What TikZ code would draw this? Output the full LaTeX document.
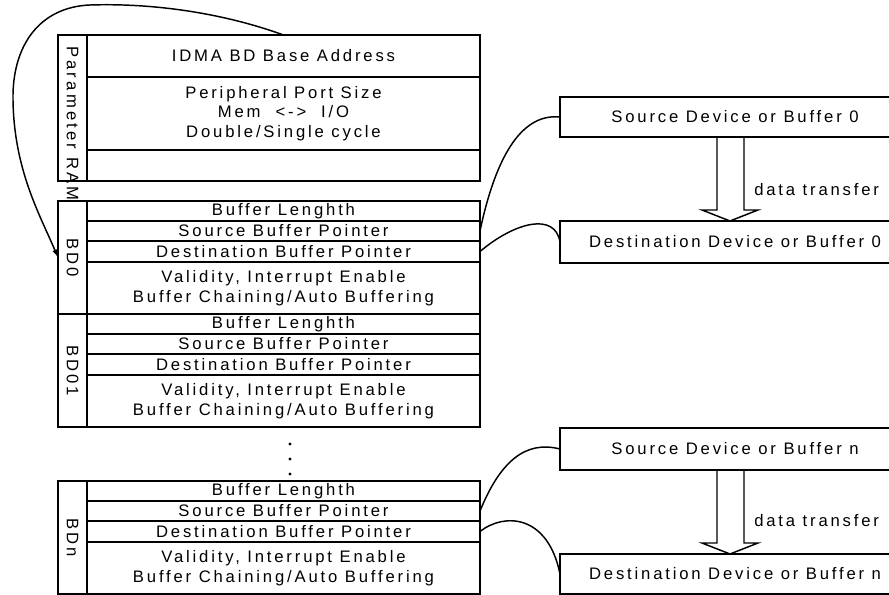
\documentclass[tikz,border=0pt]{standalone}
\usepackage{fontspec}
\usetikzlibrary{arrows.meta,calc}
\newfontfamily\lblfont[LetterSpace=17]{Liberation Sans}
\newfontfamily\widefont[LetterSpace=19]{Liberation Sans}
\newcommand\bdblock[3]{%
  \node[labcol, minimum height=113*0.75pt] (#1l) at (58,#2) {};
  \node[vlabel] (#1t) at (#1l.center) {#3};
  \node[cell, minimum height=20*0.75pt] (#1a) at (87,#2) {Buffer Lenghth};
  \node[cell, minimum height=20*0.75pt] (#1s) at (#1a.south west) {Source Buffer Pointer};
  \node[cell, minimum height=21*0.75pt] (#1d) at (#1s.south west) {Destination Buffer Pointer};
  \node[cell, minimum height=52*0.75pt] (#1v) at (#1d.south west) {Validity, Interrupt Enable\\Buffer Chaining/Auto Buffering};
}
\begin{document}
\begin{tikzpicture}[x=0.75pt,y=-0.75pt,
  lw/.style={line width=1.1pt},
  txt/.style={font=\lblfont\fontsize{12.5}{14.8}\selectfont, align=center},
  cell/.style={draw, lw, txt, inner sep=0pt, outer sep=0pt, anchor=north west, minimum width=393*0.75pt},
  labcol/.style={draw, lw, inner sep=0pt, outer sep=0pt, anchor=north west, minimum width=29*0.75pt},
  vlabel/.style={txt, rotate=-90, inner sep=0pt},
  devbox/.style={draw, lw, txt, inner sep=0pt, outer sep=0pt, anchor=north west, minimum width=350*0.75pt},
  conn/.style={lw, line cap=round},
  blockarrow/.style={lw, line join=miter}
]
\useasboundingbox (0,0) rectangle (889,595);

% Parameter RAM
\node[labcol, minimum height=146*0.75pt] (prl) at (58,35) {};
\node[vlabel, anchor=west, font=\widefont\fontsize{12.5}{14.8}\selectfont] (prt) at (72.5,46) {Parameter RAM};
\node[cell, minimum height=42*0.75pt] (pr1) at (87,35) {IDMA BD Base Address};
\node[cell, minimum height=73*0.75pt] (pr2) at (pr1.south west) {Peripheral Port Size\\Mem \ <-> \ I/O\\Double/Single cycle};
\node[cell, minimum height=31*0.75pt] (pr3) at (pr2.south west) {};

% BD blocks
\bdblock{bz}{201}{BD0}
\bdblock{bo}{314}{BD01}
\bdblock{bn}{481}{BDn}

% dots
\foreach \yy in {444,459,474} \fill (290,\yy) circle (1.6);

% device boxes
\node[devbox, minimum height=40*0.75pt] (src0) at (560,97) {Source Device or Buffer 0};
\node[devbox, minimum height=42*0.75pt] (dst0) at (560,221) {Destination Device or Buffer 0};
\node[devbox, minimum height=42*0.75pt] (srcn) at (560,428) {Source Device or Buffer n};
\node[devbox, minimum height=40*0.75pt] (dstn) at (560,554) {Destination Device or Buffer n};

% data transfer arrows
\foreach \s/\d in {src0/dst0,srcn/dstn}{
  \draw[blockarrow] ($(\s.south)+(-18,0)$) -- ($(\d.north)+(-18,-11)$) -- ($(\d.north)+(-33,-11)$)
    -- ($(\d.north)+(-5,0)$) -- ($(\d.north)+(23,-11)$) -- ($(\d.north)+(9,-11)$) -- ($(\s.south)+(9,0)$);
}
\node[txt, anchor=west, inner sep=0pt] (dt0) at (754,190) {data transfer};
\node[txt, anchor=west, inner sep=0pt] (dtn) at (754,521) {data transfer};

% connectors
\draw[conn, -{Latex[length=6pt,width=4pt]}] (pr1.north) .. controls (220,12) and (150,3) .. (90,5)
   .. controls (40,7) and (12,45) .. (13,100)
   .. controls (14,170) and (40,215) .. (bzl.west);
\draw[conn] (bzs.east) .. controls (495,160) and (520,113) .. (src0.west);
\draw[conn] (bzd.east) .. controls (515,222) and (555,212) .. (dst0.west);
\draw[conn] (bns.east) .. controls (500,462) and (525,440) .. (srcn.west);
\draw[conn] (bnd.east) .. controls (505,512) and (548,515) .. (dstn.west);
\end{tikzpicture}
\end{document}
